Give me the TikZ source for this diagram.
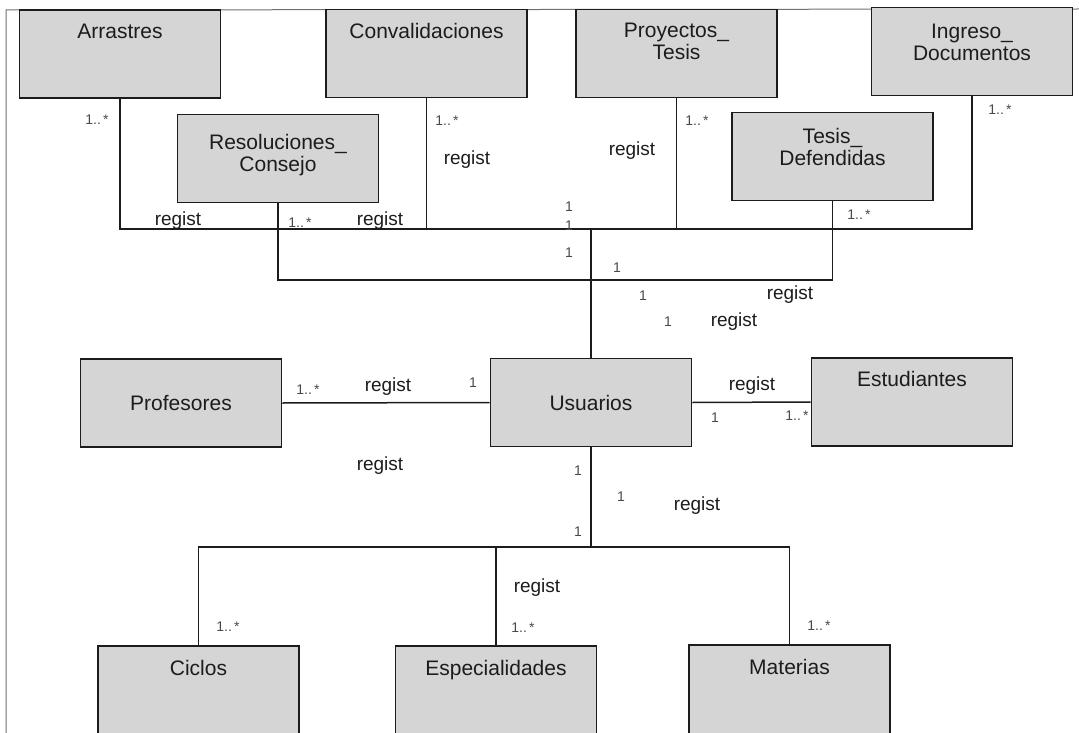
\documentclass[tikz,border=0pt]{standalone}
\usepackage{fontspec}
\setmainfont{Liberation Sans}
\usetikzlibrary{positioning}
\definecolor{boxgray}{HTML}{D5D5D5}
\definecolor{inkgray}{HTML}{1C1C1C}
\definecolor{framegray}{HTML}{707070}

\begin{document}
\begin{tikzpicture}[
  x=1pt, y=-1pt,
  box/.style={rectangle, draw=inkgray, fill=boxgray, line width=1.8pt, minimum width=201pt, minimum height=88pt, inner sep=0pt},
  cutbox/.style={box, minimum height=96pt},
  boxtext/.style={align=center, inner sep=0pt, font=\fontsize{21}{22}\selectfont, text=inkgray},
  link/.style={draw=inkgray, line width=1.5pt},
  frame/.style={draw=framegray, line width=1pt},
  role/.style={inner sep=0pt, font=\fontsize{19}{21}\selectfont, text=inkgray},
  mult/.style={inner sep=0pt, font=\fontsize{14}{16}\selectfont, text=inkgray!80}
]
\useasboundingbox (0,0) rectangle (1079,733);
\draw[frame] (6,733) -- (6,10) -- (1079,9);

% classes
\node[box] (arrastres) at (120,54) {};
\node[box] (conval) at (426.5,53.5) {};
\node[box] (proyectos) at (676.5,53.5) {};
\node[box] (ingreso) at (972,51.5) {};
\node[box] (resol) at (278,158.5) {};
\node[box] (tesisdef) at (832.5,156.5) {};
\node[box] (profesores) at (181,403) {};
\node[box] (usuarios) at (591,402.5) {};
\node[box] (estudiantes) at (912,402) {};
\node[cutbox] (ciclos) at (198.5,694) {};
\node[cutbox] (espec) at (496,694) {};
\node[cutbox] (materias) at (789.5,693) {};

% class names
\node[boxtext, below=14.5pt of arrastres.north] (arrastresL) {Arrastres};
\node[boxtext, below=14.5pt of conval.north] (convalL) {Convalidaciones};
\node[boxtext, below=14.5pt of proyectos.north] (proyectosL) {Proyectos\_\\Tesis};
\node[boxtext, below=17pt of ingreso.north] (ingresoL) {Ingreso\_\\Documentos};
\node[boxtext, below=20pt of resol.north] (resolL) {Resoluciones\_\\Consejo};
\node[boxtext, below=16pt of tesisdef.north] (tesisdefL) {Tesis\_\\Defendidas};
\node[boxtext] (profesoresL) at (profesores) {Profesores};
\node[boxtext] (usuariosL) at (usuarios) {Usuarios};
\node[boxtext, below=13.5pt of estudiantes.north] (estudiantesL) {Estudiantes};
\node[boxtext, below=14.5pt of ciclos.north] (ciclosL) {Ciclos};
\node[boxtext, below=14.5pt of espec.north] (especL) {Especialidades};
\node[boxtext, below=15pt of materias.north] (materiasL) {Materias};

% buses
\coordinate (topbus) at (591,229);
\coordinate (midbus) at (591,280);
\coordinate (lowbus) at (591,547);

\draw[link] (arrastres.south) |- (topbus) -| (ingreso.south);
\draw[link] (conval.south) -- (conval.south |- topbus);
\draw[link] (proyectos.south) -- (proyectos.south |- topbus);
\draw[link] (resol.south) |- (midbus) -| (tesisdef.south);
\draw[link] (topbus) -- (usuarios.north);
\draw[link] (profesores.east) -- (usuarios.west);
\draw[link] (usuarios.east) -- (estudiantes.west);
\draw[link] (usuarios.south) -- (lowbus);
\draw[link] (ciclos.north) |- (lowbus) -| (materias.north);
\draw[link] (espec.north) -- (espec.north |- lowbus);

% role names
\node[role] (r1) at (178,221) {regist};
\node[role] (r2) at (380,221) {regist};
\node[role] (r3) at (467,160) {regist};
\node[role] (r4) at (632,151) {regist};
\node[role] (r5) at (790,295) {regist};
\node[role] (r6) at (734,322) {regist};
\node[role] (r7) at (388,387) {regist};
\node[role] (r8) at (752,386) {regist};
\node[role] (r9) at (380,466) {regist};
\node[role] (r10) at (697,506) {regist};
\node[role] (r11) at (537,588) {regist};

% multiplicities
\node[mult] (m1) at (97,120) {1..\,*};
\node[mult] (m2) at (300,223) {1..\,*};
\node[mult] (m3) at (447,121) {1..\,*};
\node[mult] (m4) at (697,121) {1..\,*};
\node[mult] (m5) at (1000,110) {1..\,*};
\node[mult] (m6) at (859,215) {1..\,*};
\node[mult] (m7) at (308,390) {1..\,*};
\node[mult] (m8) at (797,416) {1..\,*};
\node[mult] (m9) at (228,627) {1..\,*};
\node[mult] (m10) at (523,628) {1..\,*};
\node[mult] (m11) at (819,626) {1..\,*};
\node[mult] (o1) at (569,207) {1};
\node[mult] (o2) at (569,226) {1};
\node[mult] (o3) at (569,253) {1};
\node[mult] (o4) at (617,268) {1};
\node[mult] (o5) at (643,296) {1};
\node[mult] (o6) at (668,322) {1};
\node[mult] (o7) at (473,383) {1};
\node[mult] (o8) at (715,418) {1};
\node[mult] (o9) at (578,471) {1};
\node[mult] (o10) at (621,497) {1};
\node[mult] (o11) at (578,532) {1};
\end{tikzpicture}
\end{document}
